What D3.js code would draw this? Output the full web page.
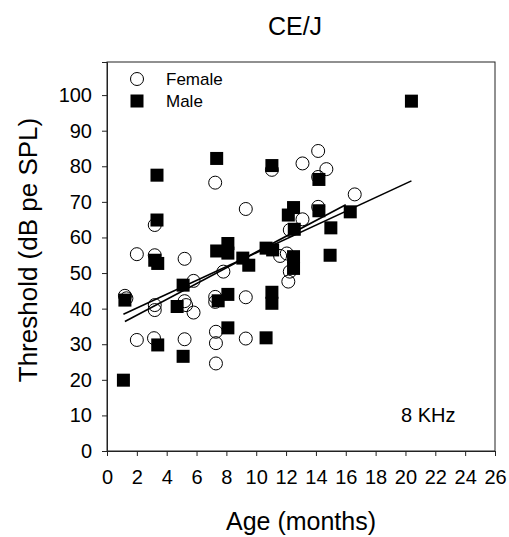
<!DOCTYPE html>
<html>
<head>
<meta charset="utf-8">
<script src="https://cdn.jsdelivr.net/npm/d3@7"></script>
<style>
  html, body { margin: 0; padding: 0; background: #fff; }
  text { font-family: "Liberation Sans", Arial, sans-serif; fill: #000; }
</style>
</head>
<body>
<svg id="chart" width="509" height="537"></svg>
<script>
// ---- data ----
const femaleAge = [1.2, 1.3, 2.0, 2.0, 3.2, 3.2, 3.2, 3.2, 3.15, 5.2, 5.2, 5.3, 5.2, 5.8, 5.8,
  7.25, 7.25, 7.25, 7.3, 7.3, 7.3, 7.8, 9.3, 9.3, 9.3, 11.05, 11.6, 12.05, 12.25, 12.15, 12.25,
  13.1, 13.1, 14.15, 14.15, 14.15, 14.7, 16.6];
const femaleThr = [43.6, 42.9, 55.3, 31.2, 63.5, 55.0, 41.0, 39.6, 31.7, 54.0, 42.1, 41.0, 31.4, 47.8, 38.9,
  75.4, 43.3, 41.9, 33.5, 30.3, 24.6, 50.4, 68.0, 43.2, 31.6, 79.0, 54.8, 55.5, 50.4, 47.6, 62.1,
  80.8, 65.1, 84.3, 77.0, 68.6, 79.2, 72.1];
const maleAge = [1.1, 1.2, 3.35, 3.35, 3.2, 3.4, 3.4, 4.7, 5.1, 5.1, 7.35, 7.35, 8.1, 8.1, 7.45,
  8.1, 8.1, 9.1, 9.5, 10.66, 11.1, 11.05, 11.05, 11.05, 10.66, 12.5, 12.15, 12.55, 12.5, 12.5,
  14.2, 14.2, 15.0, 14.95, 16.3, 20.4];
const maleThr = [19.9, 42.4, 77.5, 64.9, 53.6, 52.7, 29.8, 40.6, 46.6, 26.6, 82.2, 56.2, 58.3, 55.6, 42.2,
  44.0, 34.6, 54.2, 52.2, 57.0, 56.5, 80.2, 44.6, 41.5, 31.8, 68.4, 66.3, 62.3, 54.6, 51.3,
  76.3, 67.5, 62.7, 55.0, 67.2, 98.3];
// regression fits (endpoints)
const maleFitAge = [1.1, 20.4];
const maleFitThr = [38.4, 75.9];
const femaleFitAge = [1.2, 16.0];
const femaleFitThr = [36.4, 69.2];
const xTicks = [0, 2, 4, 6, 8, 10, 12, 14, 16, 18, 20, 22, 24, 26];
const yTicks = [0, 10, 20, 30, 40, 50, 60, 70, 80, 90, 100];
const legendLabels = ["Female", "Male"];
const titleText = "CE/J";
const xTitle = "Age (months)";
const yTitle = "Threshold (dB pe SPL)";
const annotation = "8 KHz";

// ---- layout ----
const svg = d3.select("#chart");
const pL = 107, pR = 495, pT = 62, pB = 451;
const x = d3.scaleLinear().domain([0, 26]).range([pL, pR]);
const y = d3.scaleLinear().domain([0, 109.3]).range([pB, pT]);

// frame
svg.append("rect").attr("x", pL).attr("y", pT)
  .attr("width", pR - pL).attr("height", pB - pT)
  .attr("fill", "none").attr("stroke", "#222").attr("stroke-width", 1);

// axes
const xAxis = d3.axisBottom(x).tickValues(xTicks).tickSize(5).tickPadding(14).tickFormat(d3.format("d"));
const gx = svg.append("g").attr("transform", `translate(0,${pB})`).call(xAxis);
const yAxis = d3.axisLeft(y).tickValues(yTicks).tickSize(5).tickPadding(10).tickFormat(d3.format("d"));
const gy = svg.append("g").attr("transform", `translate(${pL},0)`).call(yAxis);
[gx, gy].forEach(g => {
  g.select(".domain").attr("stroke", "#222");
  g.selectAll(".tick line").attr("stroke", "#222");
  g.selectAll(".tick text").style("font-size", "20px").style("font-family", "'Liberation Sans', Arial, sans-serif").attr("fill", "#000");
});

// points: female circles (no fill), then male squares on top
svg.append("g").selectAll("circle").data(femaleAge.map((a, i) => [a, femaleThr[i]]))
  .join("circle")
  .attr("cx", d => x(d[0])).attr("cy", d => y(d[1])).attr("r", 6.5)
  .attr("fill", "none").attr("stroke", "#000").attr("stroke-width", 1);

const sq = 13;
svg.append("g").selectAll("rect").data(maleAge.map((a, i) => [a, maleThr[i]]))
  .join("rect")
  .attr("x", d => x(d[0]) - sq / 2).attr("y", d => y(d[1]) - sq / 2)
  .attr("width", sq).attr("height", sq).attr("fill", "#000");

// regression lines
const line = d3.line().x(d => x(d[0])).y(d => y(d[1]));
svg.append("path").datum(maleFitAge.map((a, i) => [a, maleFitThr[i]]))
  .attr("d", line).attr("fill", "none").attr("stroke", "#000").attr("stroke-width", 1.6);
svg.append("path").datum(femaleFitAge.map((a, i) => [a, femaleFitThr[i]]))
  .attr("d", line).attr("fill", "none").attr("stroke", "#000").attr("stroke-width", 1.6);

// legend
svg.append("circle").attr("cx", 137).attr("cy", 79).attr("r", 6.5)
  .attr("fill", "none").attr("stroke", "#000");
svg.append("text").attr("x", 166).attr("y", 85).style("font-size", "17px").text(legendLabels[0]);
svg.append("rect").attr("x", 137 - sq / 2).attr("y", 101 - sq / 2).attr("width", sq).attr("height", sq).attr("fill", "#000");
svg.append("text").attr("x", 166).attr("y", 107).style("font-size", "17px").text(legendLabels[1]);

// annotation
svg.append("text").attr("x", 401).attr("y", 422).style("font-size", "20px").text(annotation);

// titles
svg.append("text").attr("x", 295).attr("y", 35).attr("text-anchor", "middle")
  .style("font-size", "25px").text(titleText);
svg.append("text").attr("x", 301).attr("y", 530).attr("text-anchor", "middle")
  .style("font-size", "25px").text(xTitle);
svg.append("text").attr("transform", "translate(37,250) rotate(-90)").attr("text-anchor", "middle")
  .style("font-size", "26px").text(yTitle);
</script>
</body>
</html>
